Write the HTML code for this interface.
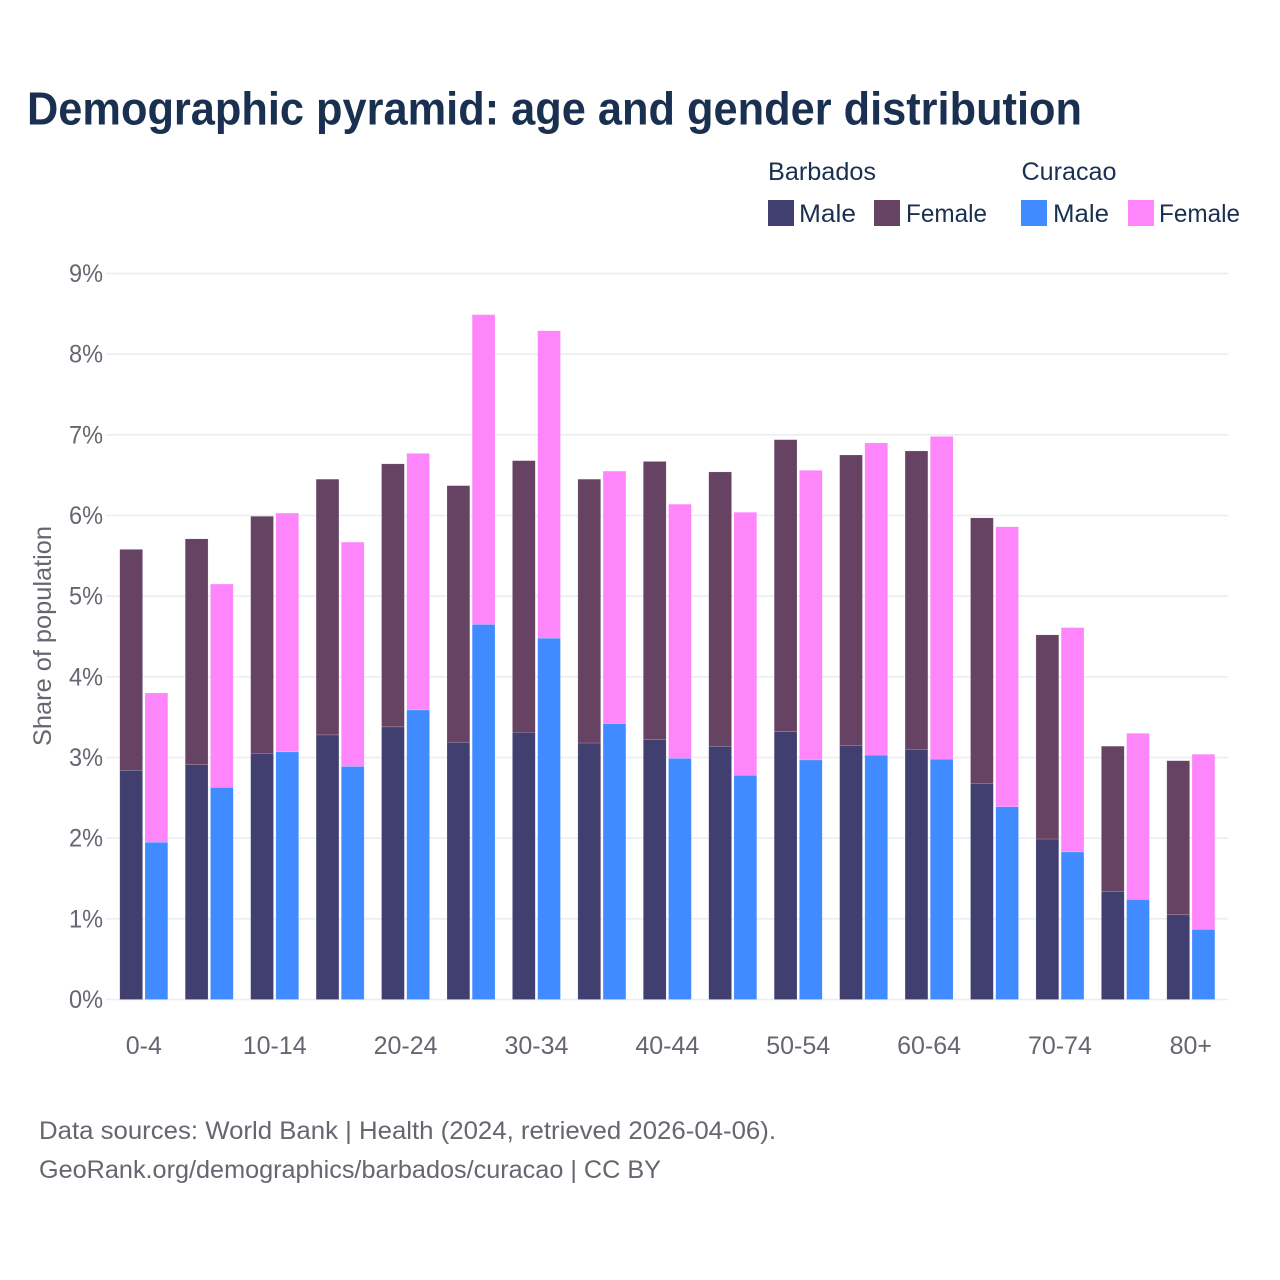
<!DOCTYPE html>
<html lang="en">
<head>
<meta charset="utf-8">
<title>Demographic pyramid</title>
<style>
html,body{margin:0;padding:0;background:#fff;}
svg{display:block;font-family:"Liberation Sans",sans-serif;}
</style>
</head>
<body>
<svg id="chart" width="1280" height="1280" viewBox="0 0 1280 1280" xmlns="http://www.w3.org/2000/svg">
<rect x="0" y="0" width="1280" height="1280" fill="#ffffff"/>
<text x="27" y="124.5" font-size="46" font-weight="700" fill="#1a3050" textLength="1055" lengthAdjust="spacingAndGlyphs">Demographic pyramid: age and gender distribution</text>

<g>
<text x="768" y="180" font-size="25" fill="#1a3050" textLength="108" lengthAdjust="spacingAndGlyphs">Barbados</text>
<text x="1021.5" y="180" font-size="25" fill="#1a3050" textLength="95" lengthAdjust="spacingAndGlyphs">Curacao</text>
<rect x="768" y="200" width="26" height="26" fill="#413f6f"/>
<text x="799" y="222" font-size="25" fill="#1a3050" textLength="57" lengthAdjust="spacingAndGlyphs">Male</text>
<rect x="874" y="200" width="26" height="26" fill="#664263"/>
<text x="906" y="222" font-size="25" fill="#1a3050" textLength="81" lengthAdjust="spacingAndGlyphs">Female</text>
<rect x="1021" y="200" width="26" height="26" fill="#3f8bff"/>
<text x="1053" y="222" font-size="25" fill="#1a3050" textLength="56" lengthAdjust="spacingAndGlyphs">Male</text>
<rect x="1128" y="200" width="26" height="26" fill="#ff85fa"/>
<text x="1159" y="222" font-size="25" fill="#1a3050" textLength="81" lengthAdjust="spacingAndGlyphs">Female</text>
</g>

<g id="grid"></g>
<g id="yticks"></g>
<g id="bars"></g>
<g id="xticks"></g>

<text transform="translate(51,636) rotate(-90)" text-anchor="middle" font-size="25" fill="#666670" textLength="220" lengthAdjust="spacingAndGlyphs">Share of population</text>

<text x="39" y="1139" font-size="25" fill="#666670" textLength="737" lengthAdjust="spacingAndGlyphs">Data sources: World Bank | Health (2024, retrieved 2026-04-06).</text>
<text x="39" y="1178" font-size="25" fill="#666670" textLength="622" lengthAdjust="spacingAndGlyphs">GeoRank.org/demographics/barbados/curacao | CC BY</text>
</svg>

<script>
var categories = ["0-4","5-9","10-14","15-19","20-24","25-29","30-34","35-39","40-44","45-49","50-54","55-59","60-64","65-69","70-74","75-79","80+"];
var tickLabels = ["0-4","","10-14","","20-24","","30-34","","40-44","","50-54","","60-64","","70-74","","80+"];
var yTicks = [0,1,2,3,4,5,6,7,8,9];
var barbadosMale = [2.84,2.91,3.05,3.28,3.38,3.19,3.31,3.18,3.22,3.14,3.32,3.15,3.10,2.68,1.99,1.34,1.05];
var barbadosFemale = [2.74,2.80,2.94,3.17,3.26,3.18,3.37,3.27,3.45,3.40,3.62,3.60,3.70,3.29,2.53,1.80,1.91];
var curacaoMale = [1.95,2.63,3.07,2.89,3.59,4.65,4.48,3.42,2.99,2.78,2.97,3.03,2.98,2.39,1.83,1.24,0.87];
var curacaoFemale = [1.85,2.52,2.96,2.78,3.18,3.84,3.81,3.13,3.15,3.26,3.59,3.87,4.00,3.47,2.78,2.06,2.17];

var NS = "http://www.w3.org/2000/svg";
var plotLeft = 106, plotRight = 1228, y0 = 999.5, yMax = 273.5, yDomain = 9;
var firstCenter = 143.8, step = 65.44, barW = 22.8, gap = 2.4;

function yScale(v){ return y0 - (v / yDomain) * (y0 - yMax); }
function xCenter(i){ return firstCenter + i * step; }

function drawSegment(parent, x, base, value, fill, name){
  var top = base + value;
  var r = document.createElementNS(NS, "rect");
  r.setAttribute("x", x);
  r.setAttribute("y", yScale(top));
  r.setAttribute("width", barW);
  r.setAttribute("height", yScale(base) - yScale(top));
  r.setAttribute("fill", fill);
  r.setAttribute("stroke", "#ffffff");
  r.setAttribute("stroke-opacity", "0.3");
  r.setAttribute("stroke-width", "0.5");
  
  
  parent.appendChild(r);
}

var grid = document.getElementById("grid");
var yticksGroup = document.getElementById("yticks");
yTicks.forEach(function(t){
  var l = document.createElementNS(NS, "line");
  l.setAttribute("x1", plotLeft);
  l.setAttribute("x2", plotRight);
  l.setAttribute("y1", yScale(t));
  l.setAttribute("y2", yScale(t));
  l.setAttribute("stroke", "#ecedf1");
  l.setAttribute("stroke-width", "1.6");
  
  
  grid.appendChild(l);

  var txt = document.createElementNS(NS, "text");
  txt.setAttribute("x", 103);
  txt.setAttribute("y", yScale(t) + 8.5);
  txt.setAttribute("text-anchor", "end");
  txt.setAttribute("font-size", "25");
  txt.setAttribute("fill", "#666670");
  txt.setAttribute("textLength", "34");
  txt.setAttribute("lengthAdjust", "spacingAndGlyphs");
  txt.textContent = t + "%";
  
  
  yticksGroup.appendChild(txt);
});

var bars = document.getElementById("bars");
categories.forEach(function(c, i){
  var cx = xCenter(i);
  var bx = cx - gap / 2 - barW;
  var kx = cx + gap / 2;
  drawSegment(bars, bx, 0, barbadosMale[i], "#413f6f", "bar-barbados-male-" + c);
  drawSegment(bars, bx, barbadosMale[i], barbadosFemale[i], "#664263", "bar-barbados-female-" + c);
  drawSegment(bars, kx, 0, curacaoMale[i], "#3f8bff", "bar-curacao-male-" + c);
  drawSegment(bars, kx, curacaoMale[i], curacaoFemale[i], "#ff85fa", "bar-curacao-female-" + c);
});

var xticksGroup = document.getElementById("xticks");
tickLabels.forEach(function(lab, i){
  if(!lab) return;
  var txt = document.createElementNS(NS, "text");
  txt.setAttribute("x", xCenter(i));
  txt.setAttribute("y", 1054);
  txt.setAttribute("text-anchor", "middle");
  txt.setAttribute("font-size", "25");
  txt.setAttribute("fill", "#666670");
  txt.textContent = lab;
  
  
  xticksGroup.appendChild(txt);
});
</script>
</body>
</html>
